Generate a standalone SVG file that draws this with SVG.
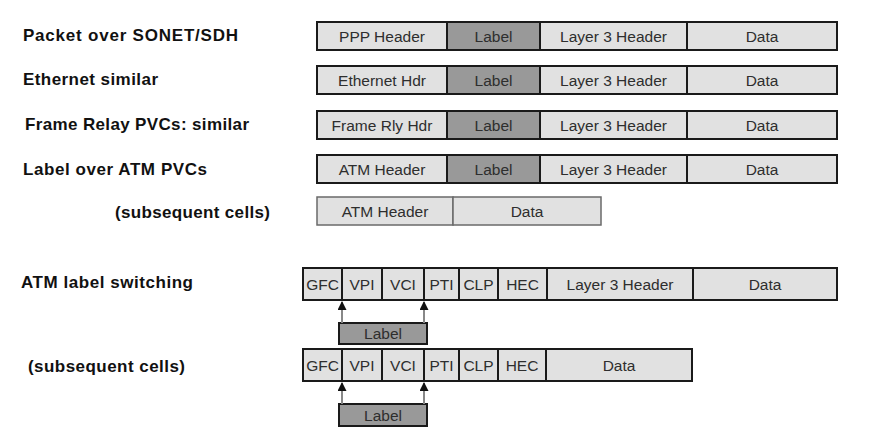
<svg xmlns="http://www.w3.org/2000/svg" width="881" height="442" viewBox="0 0 881 442">
<style>
.bg{fill:#ffffff}
.seg{fill:#e1e1e1;stroke:#1a1a1a;stroke-width:2}
.lab{fill:#999999;stroke:#1a1a1a;stroke-width:2}
.sub{fill:#e1e1e1;stroke:#6a6a6a;stroke-width:1.5}
.t{font-family:"Liberation Sans",Arial,sans-serif;font-size:15.5px;fill:#2e2e2e;text-anchor:middle}
.h{font-family:"Liberation Sans",Arial,sans-serif;font-size:17px;font-weight:bold;fill:#111111}
.arr{stroke:#888888;stroke-width:2;fill:none;marker-end:url(#ah)}
</style>
<defs>
<marker id="ah" viewBox="0 0 10 10" refX="9" refY="5" markerWidth="5" markerHeight="4.5" orient="auto" markerUnits="strokeWidth">
<path d="M0,0 L10,5 L0,10 z" fill="#111111"/>
</marker>
</defs>
<rect class="bg" x="0" y="0" width="881" height="442"/>

<g id="captions">
<text class="h" x="23" y="41" textLength="215" lengthAdjust="spacing">Packet over SONET/SDH</text>
<text class="h" x="23" y="85" textLength="135" lengthAdjust="spacing">Ethernet similar</text>
<text class="h" x="25" y="130" textLength="224" lengthAdjust="spacing">Frame Relay PVCs: similar</text>
<text class="h" x="23" y="175" textLength="184" lengthAdjust="spacing">Label over ATM PVCs</text>
<text class="h" x="115" y="218" textLength="155" lengthAdjust="spacing">(subsequent cells)</text>
<text class="h" x="21" y="288" textLength="172" lengthAdjust="spacing">ATM label switching</text>
<text class="h" x="28" y="372" textLength="157" lengthAdjust="spacing">(subsequent cells)</text>
</g>

<g id="pos-frame">
<rect class="seg" x="317" y="22" width="130" height="28"/>
<rect class="lab" x="447" y="22" width="93" height="28"/>
<rect class="seg" x="540" y="22" width="147" height="28"/>
<rect class="seg" x="687" y="22" width="150" height="28"/>
<text class="t" x="382" y="41.5">PPP Header</text>
<text class="t" x="493.5" y="41.5">Label</text>
<text class="t" x="613.5" y="41.5">Layer 3 Header</text>
<text class="t" x="762" y="41.5">Data</text>
</g>

<g id="ethernet-frame">
<rect class="seg" x="317" y="66" width="130" height="28"/>
<rect class="lab" x="447" y="66" width="93" height="28"/>
<rect class="seg" x="540" y="66" width="147" height="28"/>
<rect class="seg" x="687" y="66" width="150" height="28"/>
<text class="t" x="382" y="85.5">Ethernet Hdr</text>
<text class="t" x="493.5" y="85.5">Label</text>
<text class="t" x="613.5" y="85.5">Layer 3 Header</text>
<text class="t" x="762" y="85.5">Data</text>
</g>

<g id="framerelay-frame">
<rect class="seg" x="317" y="111" width="130" height="28"/>
<rect class="lab" x="447" y="111" width="93" height="28"/>
<rect class="seg" x="540" y="111" width="147" height="28"/>
<rect class="seg" x="687" y="111" width="150" height="28"/>
<text class="t" x="382" y="130.5">Frame Rly Hdr</text>
<text class="t" x="493.5" y="130.5">Label</text>
<text class="t" x="613.5" y="130.5">Layer 3 Header</text>
<text class="t" x="762" y="130.5">Data</text>
</g>

<g id="atm-pvc-frame">
<rect class="seg" x="317" y="155" width="130" height="28"/>
<rect class="lab" x="447" y="155" width="93" height="28"/>
<rect class="seg" x="540" y="155" width="147" height="28"/>
<rect class="seg" x="687" y="155" width="150" height="28"/>
<text class="t" x="382" y="174.5">ATM Header</text>
<text class="t" x="493.5" y="174.5">Label</text>
<text class="t" x="613.5" y="174.5">Layer 3 Header</text>
<text class="t" x="762" y="174.5">Data</text>
</g>

<g id="atm-pvc-subsequent">
<rect class="sub" x="317" y="197" width="136" height="28"/>
<rect class="sub" x="453" y="197" width="148" height="28"/>
<text class="t" x="385" y="217">ATM Header</text>
<text class="t" x="527" y="217">Data</text>
</g>

<g id="atm-cell-1">
<rect class="seg" x="303" y="268" width="39" height="32"/>
<rect class="seg" x="342" y="268" width="40" height="32"/>
<rect class="seg" x="382" y="268" width="42" height="32"/>
<rect class="seg" x="424" y="268" width="35" height="32"/>
<rect class="seg" x="459" y="268" width="39" height="32"/>
<rect class="seg" x="498" y="268" width="49" height="32"/>
<rect class="seg" x="547" y="268" width="146" height="32"/>
<rect class="seg" x="693" y="268" width="144" height="32"/>
<text class="t" x="322.5" y="289.5">GFC</text>
<text class="t" x="362" y="289.5">VPI</text>
<text class="t" x="403" y="289.5">VCI</text>
<text class="t" x="441.5" y="289.5">PTI</text>
<text class="t" x="478.5" y="289.5">CLP</text>
<text class="t" x="522.5" y="289.5">HEC</text>
<text class="t" x="620" y="289.5">Layer 3 Header</text>
<text class="t" x="765" y="289.5">Data</text>
</g>

<g id="label-1">
<rect class="lab" x="339" y="323" width="88" height="21"/>
<text class="t" x="383" y="339">Label</text>
</g>

<g id="atm-cell-2">
<rect class="seg" x="303" y="349" width="39" height="32"/>
<rect class="seg" x="342" y="349" width="40" height="32"/>
<rect class="seg" x="382" y="349" width="42" height="32"/>
<rect class="seg" x="424" y="349" width="35" height="32"/>
<rect class="seg" x="459" y="349" width="39" height="32"/>
<rect class="seg" x="498" y="349" width="48" height="32"/>
<rect class="seg" x="546" y="349" width="146" height="32"/>
<text class="t" x="322.5" y="370.5">GFC</text>
<text class="t" x="362" y="370.5">VPI</text>
<text class="t" x="403" y="370.5">VCI</text>
<text class="t" x="441.5" y="370.5">PTI</text>
<text class="t" x="478.5" y="370.5">CLP</text>
<text class="t" x="522" y="370.5">HEC</text>
<text class="t" x="619" y="370.5">Data</text>
</g>

<g id="label-2">
<rect class="lab" x="339" y="404" width="88" height="22"/>
<text class="t" x="383" y="421">Label</text>
</g>

<g id="connectors">
<line class="arr" x1="342" y1="323" x2="342" y2="302"/>
<line class="arr" x1="424" y1="323" x2="424" y2="302"/>
<line class="arr" x1="342" y1="404" x2="342" y2="383"/>
<line class="arr" x1="424" y1="404" x2="424" y2="383"/>
</g>
</svg>
